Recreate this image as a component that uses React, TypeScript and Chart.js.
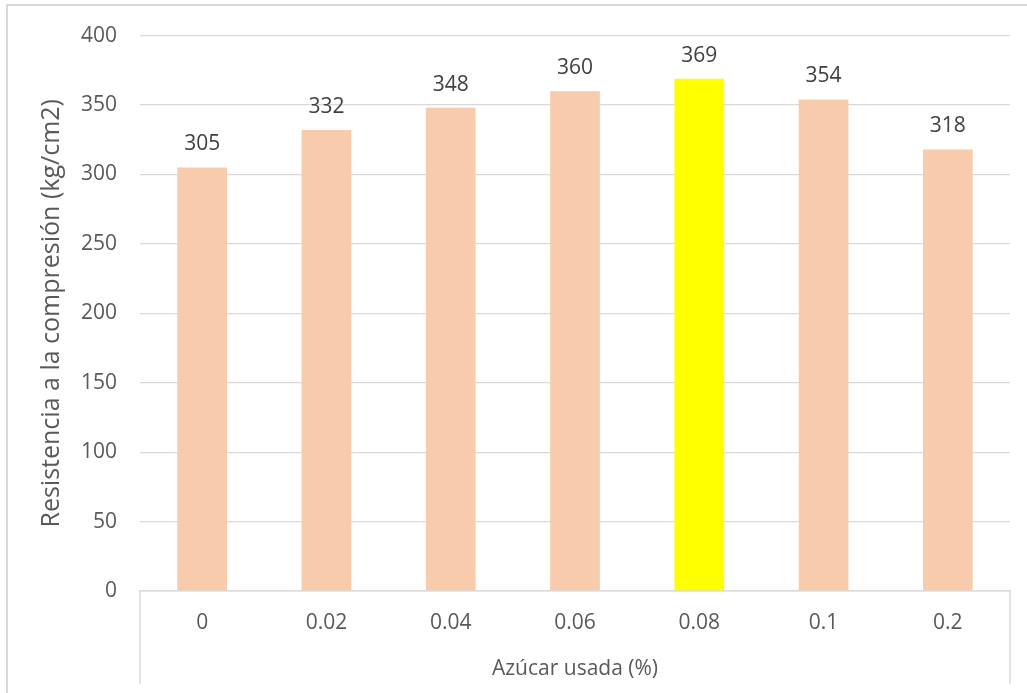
import { useEffect, useRef } from "react";
import { Chart, registerables } from "chart.js";

Chart.register(...registerables);

// Sugar dosage (%) and compressive strength (kg/cm2)
const categories = ["0", "0.02", "0.04", "0.06", "0.08", "0.1", "0.2"];
const strength = [305, 332, 348, 360, 369, 354, 318];
const highlighted = "0.08";

const yTicks = [0, 50, 100, 150, 200, 250, 300, 350, 400];

const FONT = "'Open Sans', sans-serif";
const BAR = "#F8CBAD";
const BAR_HI = "#FFFF00";
const GRID = "#D9D9D9";
const TICK_TEXT = "#595959";
const LABEL_TEXT = "#404040";

// values printed above each bar
const valueLabels = {
  id: "valueLabels",
  afterDatasetsDraw(chart: Chart) {
    const { ctx } = chart;
    const meta = chart.getDatasetMeta(0);
    ctx.save();
    ctx.font = `21px ${FONT}`;
    ctx.fillStyle = LABEL_TEXT;
    ctx.textAlign = "center";
    ctx.textBaseline = "middle";
    meta.data.forEach((bar: any, i: number) => {
      ctx.fillText(String(strength[i]), bar.x, bar.y - 23);
    });
    ctx.restore();
  },
};

// vertical separators framing the category labels below the axis
const categoryFrame = {
  id: "categoryFrame",
  afterDraw(chart: Chart) {
    const { ctx, chartArea } = chart;
    const x = chart.scales.x;
    ctx.save();
    ctx.strokeStyle = GRID;
    ctx.lineWidth = 1.5;
    ctx.beginPath();
    [x.left, x.right].forEach((px) => {
      ctx.moveTo(px, chartArea.bottom);
      ctx.lineTo(px, chartArea.bottom + 93);
    });
    ctx.stroke();
    ctx.restore();
  },
};

export default function App() {
  const ref = useRef<HTMLCanvasElement>(null);

  useEffect(() => {
    if (!ref.current) return;
    const chart = new Chart(ref.current, {
      type: "bar",
      data: {
        labels: categories,
        datasets: [
          {
            data: strength,
            backgroundColor: categories.map((c) => (c === highlighted ? BAR_HI : BAR)),
            borderWidth: 0,
            categoryPercentage: 1,
            barPercentage: 0.4,
          },
        ],
      },
      options: {
        responsive: false,
        animation: false,
        layout: { padding: { top: 35, right: 17, left: 0, bottom: 0 } },
        plugins: {
          legend: { display: false },
          tooltip: { enabled: false },
        },
        scales: {
          x: {
            grid: { display: true, drawOnChartArea: false, drawTicks: false },
            border: { display: true, color: GRID, width: 1.5 },
            ticks: {
              color: TICK_TEXT,
              font: { family: FONT, size: 21 },
              padding: 19,
              maxRotation: 0,
            },
            title: {
              display: true,
              text: "Azúcar usada (%)",
              color: TICK_TEXT,
              font: { family: FONT, size: 21 },
              padding: { top: 0, bottom: 11 },
            },
            afterFit: (scale: any) => {
              scale.height = 102;
            },
          },
          y: {
            min: 0,
            max: 400,
            afterBuildTicks: (scale: any) => {
              scale.ticks = yTicks.map((v) => ({ value: v }));
            },
            grid: { color: GRID, lineWidth: 1.3, drawTicks: false },
            border: { display: false },
            ticks: {
              color: TICK_TEXT,
              font: { family: FONT, size: 21 },
              padding: 23,
            },
            title: {
              display: true,
              text: "Resistencia a la compresión (kg/cm2)",
              color: TICK_TEXT,
              font: { family: FONT, size: 25 },
              padding: { top: 37, bottom: 0 },
            },
            afterFit: (scale: any) => {
              scale.width = 140;
            },
          },
        },
      },
      plugins: [valueLabels, categoryFrame],
    });
    return () => chart.destroy();
  }, []);

  return (
    <div style={{ position: "fixed", left: 0, top: 0, width: 1027, height: 693, background: "#fff" }}>
      <div
        style={{
          position: "absolute",
          left: 6,
          top: 4,
          right: 0,
          bottom: 0,
          borderTop: `2px solid ${GRID}`,
          borderLeft: `2px solid ${GRID}`,
        }}
      />
      <canvas ref={ref} width={1027} height={693} style={{ position: "absolute", left: 0, top: 0 }} />
    </div>
  );
}
